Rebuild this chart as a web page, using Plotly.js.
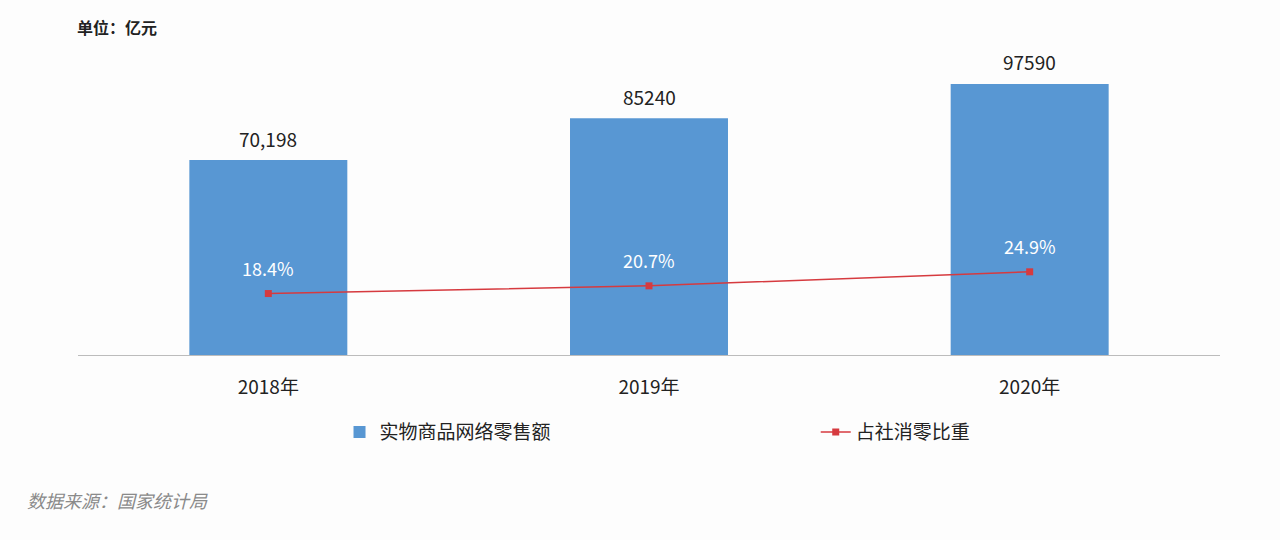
<!DOCTYPE html>
<html>
<head>
<meta charset="utf-8">
<script src="https://cdn.plot.ly/plotly-3.0.1.min.js"></script>
<style>
  body { margin: 0; background: #fdfdfd; }
  #chart { width: 1280px; height: 540px; }
</style>
</head>
<body>
<div id="chart"></div>
<script>
// values
var years = ['2018年', '2019年', '2020年'];
var salesValues = [70198, 85240, 97590];        // 亿元
var salesLabels = ['70,198', '85240', '97590'];
var shareValues = [18.4, 20.7, 24.9];           // %
var shareLabels = ['18.4%', '20.7%', '24.9%'];

var FONT = '"Noto Sans CJK SC", "Noto Sans", sans-serif';

var plot_data = [
    {
        x: years,
        y: salesValues,
        name: '实物商品网络零售额',
        type: 'bar',
        marker: { color: '#5897d3' },
        legend: 'legend',
        hoverinfo: 'none'
    },
    {
        x: years,
        y: shareValues,
        name: '占社消零比重',
        type: 'scatter',
        mode: 'lines+markers',
        yaxis: 'y2',
        line: { color: '#d63a3f', width: 1.5 },
        marker: { color: '#d63a3f', symbol: 'square', size: 7 },
        legend: 'legend2',
        hoverinfo: 'none'
    }
];

var annotations = [];
for (var i = 0; i < years.length; i++) {
    // value above each bar
    annotations.push({
        x: years[i], y: salesValues[i], xref: 'x', yref: 'y',
        text: salesLabels[i], showarrow: false, yshift: 22,
        font: { family: FONT, size: 19, color: '#222' }
    });
    // percentage above each line point
    annotations.push({
        x: years[i], y: shareValues[i], xref: 'x', yref: 'y2',
        text: shareLabels[i], showarrow: false, yshift: 26,
        font: { family: FONT, size: 18, color: '#ffffff' }
    });
}

// unit and source notes
annotations.push({
    xref: 'paper', yref: 'paper', x: -0.003, y: 1.04, xanchor: 'left', yanchor: 'middle',
    text: '<b>单位：亿元</b>', showarrow: false,
    font: { family: FONT, size: 16, color: '#222' }
});
annotations.push({
    xref: 'paper', yref: 'paper', x: -0.046, y: -0.46, xanchor: 'left', yanchor: 'middle',
    text: '<i>数据来源：国家统计局</i>', showarrow: false,
    font: { family: FONT, size: 18, color: '#8a8a8a' }
});

var legendStyle = {
    orientation: 'h',
    xanchor: 'left',
    y: -0.245,
    yanchor: 'middle',
    font: { family: FONT, size: 19, color: '#222' },
    bgcolor: 'rgba(0,0,0,0)'
};

var layout = {
    width: 1280,
    height: 540,
    margin: { l: 78, r: 60, t: 40, b: 185 },
    paper_bgcolor: '#fdfdfd',
    plot_bgcolor: 'rgba(0,0,0,0)',
    bargap: 0.585,
    font: { family: FONT, color: '#222' },
    showlegend: true,
    legend: Object.assign({ x: 0.229 }, legendStyle),
    legend2: Object.assign({ x: 0.646 }, legendStyle),
    xaxis: {
        showline: true,
        linecolor: '#bcbcbc',
        linewidth: 1,
        showgrid: false,
        ticks: 'outside',
        ticklen: 15,
        tickcolor: 'rgba(0,0,0,0)',
        tickfont: { family: FONT, size: 19, color: '#222' }
    },
    yaxis: {
        range: [0, 113400],
        visible: false,
        showgrid: false,
        zeroline: false
    },
    yaxis2: {
        range: [0, 94.3],
        overlaying: 'y',
        side: 'right',
        visible: false,
        showgrid: false,
        zeroline: false
    },
    annotations: annotations
};

Plotly.newPlot(document.getElementById('chart'), plot_data, layout, { staticPlot: true });
</script>
</body>
</html>
